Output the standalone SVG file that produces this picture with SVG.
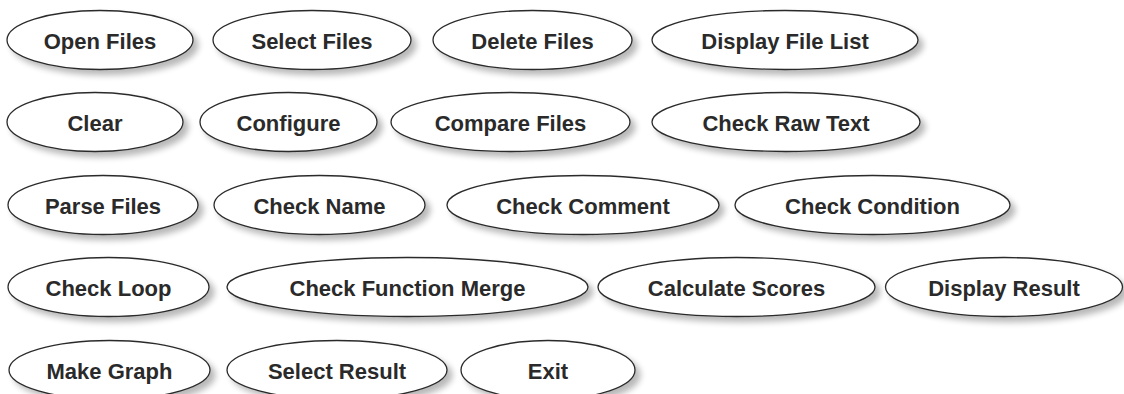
<svg xmlns="http://www.w3.org/2000/svg" width="1124" height="394" viewBox="0 0 1124 394">
<style>
  .uc ellipse { fill: #ffffff; stroke: #2b2b2b; stroke-width: 1.3; filter: url(#shadow); }
  .uc text { font-family: "Liberation Sans", Arial, sans-serif; font-weight: bold; font-size: 22px; fill: #2a2a2a; text-anchor: middle; }
</style>
<defs>
  <filter id="shadow" x="-10%" y="-30%" width="125%" height="170%">
    <feGaussianBlur in="SourceAlpha" stdDeviation="3" result="b"/>
    <feOffset in="b" dx="5" dy="5" result="o"/>
    <feComponentTransfer in="o" result="s"><feFuncA type="linear" slope="0.28"/></feComponentTransfer>
    <feMerge><feMergeNode in="s"/><feMergeNode in="SourceGraphic"/></feMerge>
  </filter>
</defs>
<rect width="1124" height="394" fill="#ffffff"/>
<g id="connectors"></g>
<g id="open-files" class="uc"><ellipse cx="100" cy="40" rx="93" ry="29.5"/><text x="100" y="49">Open Files</text></g>
<g id="select-files" class="uc"><ellipse cx="312" cy="40" rx="99" ry="29.5"/><text x="312" y="49">Select Files</text></g>
<g id="delete-files" class="uc"><ellipse cx="532.5" cy="40" rx="99.5" ry="29.5"/><text x="532.5" y="49">Delete Files</text></g>
<g id="display-file-list" class="uc"><ellipse cx="785" cy="40" rx="133" ry="29.5"/><text x="785" y="49">Display File List</text></g>

<g id="clear" class="uc"><ellipse cx="95" cy="122" rx="88" ry="29.5"/><text x="95" y="131">Clear</text></g>
<g id="configure" class="uc"><ellipse cx="288.5" cy="122" rx="88.5" ry="29.5"/><text x="288.5" y="131">Configure</text></g>
<g id="compare-files" class="uc"><ellipse cx="510.5" cy="122" rx="119.5" ry="29.5"/><text x="510.5" y="131">Compare Files</text></g>
<g id="check-raw-text" class="uc"><ellipse cx="786" cy="122" rx="134" ry="29.5"/><text x="786" y="131">Check Raw Text</text></g>

<g id="parse-files" class="uc"><ellipse cx="103" cy="205" rx="95" ry="29.5"/><text x="103" y="214">Parse Files</text></g>
<g id="check-name" class="uc"><ellipse cx="319.5" cy="205" rx="105.5" ry="29.5"/><text x="319.5" y="214">Check Name</text></g>
<g id="check-comment" class="uc"><ellipse cx="583" cy="205" rx="136" ry="29.5"/><text x="583" y="214">Check Comment</text></g>
<g id="check-condition" class="uc"><ellipse cx="872.5" cy="205" rx="137.5" ry="29.5"/><text x="872.5" y="214">Check Condition</text></g>

<g id="check-loop" class="uc"><ellipse cx="108.5" cy="287" rx="100.5" ry="29.5"/><text x="108.5" y="296">Check Loop</text></g>
<g id="check-function-merge" class="uc"><ellipse cx="407.5" cy="287" rx="180.5" ry="29.5"/><text x="407.5" y="296">Check Function Merge</text></g>
<g id="calculate-scores" class="uc"><ellipse cx="736.5" cy="287" rx="138.5" ry="29.5"/><text x="736.5" y="296">Calculate Scores</text></g>
<g id="display-result" class="uc"><ellipse cx="1004" cy="287" rx="118.5" ry="29.5"/><text x="1004" y="296">Display Result</text></g>

<g id="make-graph" class="uc"><ellipse cx="109.5" cy="370" rx="100.5" ry="29.5"/><text x="109.5" y="379">Make Graph</text></g>
<g id="select-result" class="uc"><ellipse cx="337" cy="370" rx="110" ry="29.5"/><text x="337" y="379">Select Result</text></g>
<g id="exit" class="uc"><ellipse cx="548" cy="370" rx="87" ry="29.5"/><text x="548" y="379">Exit</text></g>
</svg>
